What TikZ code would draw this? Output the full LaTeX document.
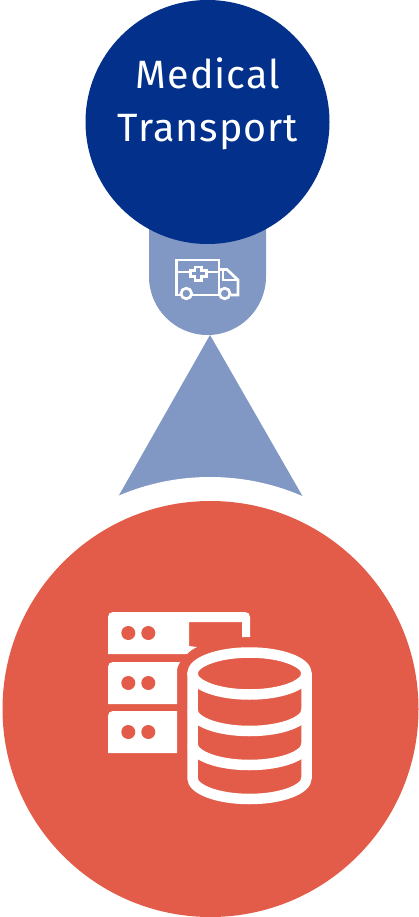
\documentclass[tikz,border=0pt]{standalone}
\usepackage{fontspec}
\setmainfont{Open Sans}
\newfontfamily\titlefont[LetterSpace=2.5]{Fira Sans}
\definecolor{navy}{HTML}{03308A}
\definecolor{steel}{HTML}{8098C3}
\definecolor{coral}{HTML}{E35C49}
\tikzset{
  titletext/.style={text=white,font=\titlefont\fontsize{39.5}{40}\selectfont,inner sep=0pt,anchor=base}
}
\begin{document}
\begin{tikzpicture}[x=1pt,y=-1pt]
\useasboundingbox (0,0) rectangle (419,917);
% connector shapes
\fill[steel] (149,200) -- (266,200) -- (266,276.5) arc[start angle=0,end angle=180,radius=58.5] -- cycle;
\fill[navy] (207.5,122) circle[radius=122];
\begin{scope}
\clip (118,335) rectangle (303,497);
\fill[steel] (210,335) -- (303,497) -- (118,497) -- cycle;
\fill[white] (210,709) circle[radius=232];
\end{scope}
\fill[coral] (210.5,709) circle[radius=208];
% title
\node[titletext] (t1) at (208,88.5) {Medical};
\node[titletext] (t2) at (208,141.5) {Transport};
% ambulance
\begin{scope}[line width=2.7pt]
\draw[white] (181,295) -- (176.3,295) -- (176.3,260) -- (219,260) -- (219,295);
\draw[white] (192,295) -- (220,295);
\draw[white] (230.5,295) -- (238,295) -- (238,280) -- (227,269.5) -- (219,269.5);
\draw[white] (223,270) -- (223,280) -- (238,280);
\draw[white] (176,272) -- (190,272);
\draw[white] (206,272) -- (219,272);
\draw[white] (195,267) -- (201.3,267) -- (201.3,270.8) -- (206.3,270.8) -- (206.3,276.5) -- (201.3,276.5) -- (201.3,280.5) -- (195,280.5) -- (195,276.5) -- (190.3,276.5) -- (190.3,270.8) -- (195,270.8) -- cycle;
\fill[steel] (186.3,293.5) circle[radius=5.3];
\fill[steel] (224.7,293.5) circle[radius=5.3];
\draw[white] (186.3,293.5) circle[radius=5.3];
\draw[white] (224.7,293.5) circle[radius=5.3];
\end{scope}
% servers
\fill[white] (108,654) -- (108,617) .. controls (108,614) and (110,612) .. (113,612) -- (245,612) .. controls (248,612) and (250,614) .. (250,617) -- (250,637) -- (242,637) -- (242,622) -- (189,622) -- (189,646) -- (197,647) .. controls (193,649) and (190,651) .. (187,654) -- cycle;
\fill[white] (108,704) -- (108,667) .. controls (108,664) and (110,662) .. (113,662) -- (180,662) .. controls (178,665) and (177,668) .. (177,672) -- (177,704) -- cycle;
\fill[white] (108,753) -- (108,716) .. controls (108,713) and (110,711) .. (113,711) -- (177,711) -- (177,753) -- cycle;
\foreach \y in {633,683,732}{
  \fill[coral] (128.3,\y) circle[radius=7];
  \fill[coral] (148.3,\y) circle[radius=7];
}
% database
\begin{scope}[line width=10.5pt]
\draw[white] (249.5,673.5) ellipse[x radius=57,y radius=21];
\draw[white] (192.5,673.5) -- (192.5,778) arc[start angle=180,end angle=0,x radius=57,y radius=21] -- (306.5,673.5);
\draw[white] (192.5,710) arc[start angle=180,end angle=0,x radius=57,y radius=21];
\draw[white] (192.5,744) arc[start angle=180,end angle=0,x radius=57,y radius=21];
\end{scope}
\end{tikzpicture}
\end{document}
